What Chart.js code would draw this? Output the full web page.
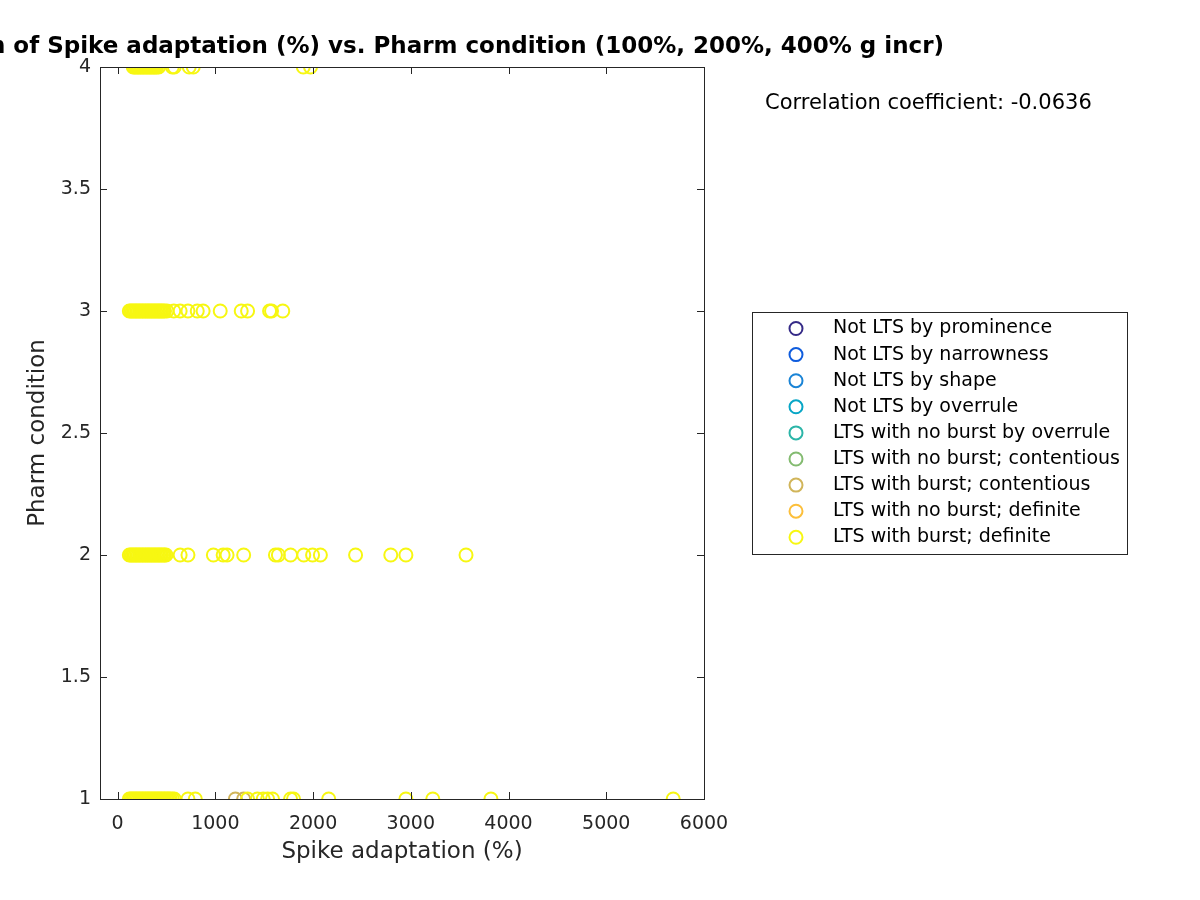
<!DOCTYPE html>
<html>
<head>
<meta charset="utf-8">
<script src="https://cdn.jsdelivr.net/npm/chart.js@4/dist/chart.umd.min.js"></script>
<style>
  body { margin: 0; background: #fff; }
  #wrap { width: 1200px; height: 900px; }
</style>
</head>
<body>
<div id="wrap"><canvas id="chart"></canvas></div>
<script>
const titleText = "Correlation of Spike adaptation (%) vs. Pharm condition (100%, 200%, 400% g incr)",
    xLabel = "Spike adaptation (%)",
    yLabel = "Pharm condition",
    corrText = "Correlation coefficient: -0.0636";

const classLabels = [
    "Not LTS by prominence",
    "Not LTS by narrowness",
    "Not LTS by shape",
    "Not LTS by overrule",
    "LTS with no burst by overrule",
    "LTS with no burst; contentious",
    "LTS with burst; contentious",
    "LTS with no burst; definite",
    "LTS with burst; definite"
];
const classColors = ["#352a87", "#0f5cdd", "#1a84d6", "#07a6c6", "#2cb5a8", "#83bb70", "#d1b55a", "#fcbf3a", "#f7f712"];

const xTicks = [0, 1000, 2000, 3000, 4000, 5000, 6000];
const yTicks = [1, 1.5, 2, 2.5, 3, 3.5, 4];

// spike adaptation values per pharm condition (yellow: LTS with burst; definite)
const cond1 = [120, 135, 150, 165, 180, 195, 210, 225, 240, 255, 270, 285, 300, 315, 330, 345, 360, 375, 390, 405, 420, 435, 450, 465,
    480, 495, 510, 525, 540, 560, 580, 720, 795,
    1330, 1430, 1490, 1535, 1585, 1770, 1800, 2160, 2950, 3225, 3820, 5685];
const cond2 = [120, 135, 150, 165, 180, 195, 210, 225, 240, 255, 270, 285, 300, 315, 330, 345, 360, 375, 390, 405, 420, 435, 450, 465,
    480, 495, 640, 720,
    980, 1080, 1120, 1290, 1615, 1645, 1770, 1905, 1995, 2075, 2435, 2795, 2950, 3565];
const cond3 = [120, 135, 150, 165, 180, 195, 210, 225, 240, 255, 270, 285, 300, 315, 330, 345, 360, 375, 390, 405, 420, 435, 450, 465,
    480, 505, 575, 640, 720, 815, 875,
    1050, 1265, 1330, 1555, 1575, 1690];
const cond4 = [160, 175, 190, 205, 220, 235, 250, 265, 280, 295, 310, 325, 340, 355, 370, 385, 400, 420, 560, 580, 733, 774, 1900, 1974];
// LTS with burst; contentious
const contentious1 = [1205, 1290];

const toPoints = (xs, y) => xs.map(v => ({ x: v, y: y }));

const seriesData = classLabels.map(() => []);
seriesData[6] = toPoints(contentious1, 1);
seriesData[8] = [].concat(toPoints(cond1, 1), toPoints(cond2, 2), toPoints(cond3, 3), toPoints(cond4, 4));

const FONT = "'DejaVu Sans', sans-serif";

const decorPlugin = {
    id: 'decor',
    afterDraw(chart) {
        const c = chart.ctx,
            a = chart.chartArea,
            xs = chart.scales.x,
            ys = chart.scales.y;
        c.save();

        // box and inward ticks
        c.strokeStyle = "#262626";
        c.lineWidth = 1;
        c.strokeRect(a.left + 0.5, a.top + 0.5, a.right - a.left, a.bottom - a.top);
        c.beginPath();
        xTicks.forEach(t => {
            const px = Math.round(xs.getPixelForValue(t)) + 0.5;
            c.moveTo(px, a.bottom); c.lineTo(px, a.bottom - 7);
            c.moveTo(px, a.top); c.lineTo(px, a.top + 7);
        });
        yTicks.forEach(t => {
            const py = Math.round(ys.getPixelForValue(t)) + 0.5;
            c.moveTo(a.left, py); c.lineTo(a.left + 7, py);
            c.moveTo(a.right, py); c.lineTo(a.right - 7, py);
        });
        c.stroke();

        // title
        const cx = (a.left + a.right) / 2;
        c.fillStyle = "#000";
        c.font = "bold 23px " + FONT;
        c.textAlign = "center";
        c.textBaseline = "middle";
        c.fillText(titleText, cx, 47);

        // axis labels
        c.fillStyle = "#262626";
        c.font = "23px " + FONT;
        c.fillText(xLabel, cx, 852);
        c.save();
        c.translate(38, (a.top + a.bottom) / 2);
        c.rotate(-Math.PI / 2);
        c.fillText(yLabel, 0, 0);
        c.restore();

        // correlation text
        c.fillStyle = "#000";
        c.font = "21px " + FONT;
        c.textAlign = "left";
        c.fillText(corrText, 765, 104);

        // legend
        c.fillStyle = "#fff";
        c.fillRect(752, 312, 375, 242);
        c.strokeStyle = "#262626";
        c.strokeRect(752.5, 312.5, 375, 242);
        c.font = "19px " + FONT;
        classLabels.forEach((lab, i) => {
            const y = 328.5 + i * 26.1;
            c.beginPath();
            c.arc(796, y, 6.5, 0, Math.PI * 2);
            c.strokeStyle = classColors[i];
            c.lineWidth = 2;
            c.stroke();
            c.fillStyle = "#000";
            c.fillText(lab, 833, y);
        });
        c.restore();
    }
};

const chart = new Chart(document.getElementById("chart"), {
    type: 'scatter',
    data: {
        datasets: classLabels.map((lab, i) => ({
            label: lab,
            data: seriesData[i],
            borderColor: classColors[i],
            backgroundColor: 'rgba(0,0,0,0)',
            pointRadius: 6.5,
            pointHoverRadius: 6.5,
            borderWidth: 2,
            order: classLabels.length - 1 - i
        }))
    },
    options: {
        responsive: true,
        maintainAspectRatio: false,
        animation: false,
        layout: { padding: { left: 0, top: 67, right: 496, bottom: 0 } },
        plugins: {
            legend: { display: false },
            tooltip: { enabled: false },
            title: { display: false }
        },
        scales: {
            x: {
                type: 'linear',
                min: -180,
                max: 6000,
                grid: { display: false },
                border: { display: false },
                afterBuildTicks: s => { s.ticks = xTicks.map(v => ({ value: v })); },
                afterFit: s => { s.height = 101; },
                ticks: { font: { family: FONT, size: 19 }, color: "#262626", padding: 6, maxRotation: 0, callback: v => String(v) }
            },
            y: {
                type: 'linear',
                min: 1,
                max: 4,
                grid: { display: false },
                border: { display: false },
                afterBuildTicks: s => { s.ticks = yTicks.map(v => ({ value: v })); },
                afterFit: s => { s.width = 100; },
                ticks: { font: { family: FONT, size: 19 }, color: "#262626", padding: 1, callback: v => String(v) }
            }
        }
    },
    plugins: [decorPlugin]
});
</script>
</body>
</html>
